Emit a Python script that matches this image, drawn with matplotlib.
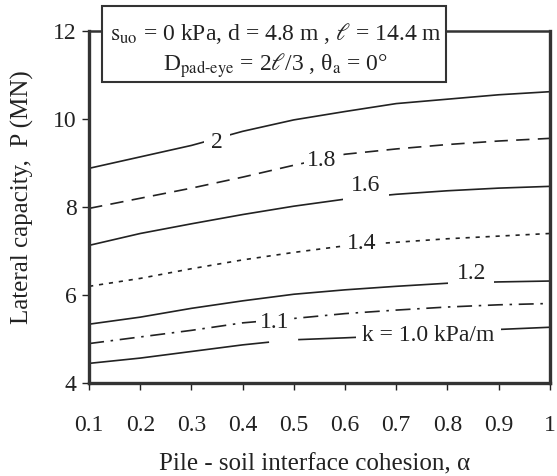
import matplotlib.pyplot as plt
from matplotlib.patches import Rectangle

plt.rcParams['font.family'] = ['Liberation Serif', 'DejaVu Serif']
plt.rcParams['mathtext.fontset'] = 'stix'

# Interface cohesion values
alpha = [0.1, 0.2, 0.3, 0.4, 0.5, 0.6, 0.7, 0.8, 0.9, 1.0]

# Lateral capacity P (MN) for each k (kPa/m)
p_k20 = [8.88, 9.14, 9.40, 9.72, 9.98, 10.17, 10.35, 10.45, 10.55, 10.62]
p_k18 = [7.97, 8.20, 8.43, 8.68, 8.95, 9.20, 9.32, 9.42, 9.50, 9.56]
p_k16 = [7.13, 7.40, 7.62, 7.83, 8.02, 8.18, 8.29, 8.37, 8.43, 8.47]
p_k14 = [6.20, 6.38, 6.60, 6.80, 6.97, 7.12, 7.20, 7.28, 7.34, 7.40]
p_k12 = [5.34, 5.50, 5.70, 5.87, 6.02, 6.12, 6.20, 6.27, 6.30, 6.32]
p_k11 = [4.90, 5.05, 5.20, 5.37, 5.47, 5.58, 5.66, 5.73, 5.78, 5.81]
# k = 1.0 curve is drawn in two pieces in the figure
alpha_k10a = [0.1, 0.2, 0.3, 0.4, 0.45]
p_k10a = [4.45, 4.57, 4.72, 4.87, 4.93]
alpha_k10b = [0.51, 0.6, 0.7, 0.8, 0.9, 1.0]
p_k10b = [4.99, 5.03, 5.08, 5.15, 5.22, 5.27]

fig = plt.figure(figsize=(5.57, 4.76), dpi=100)
ax = fig.add_axes([0.160, 0.195, 0.827, 0.740])

lw = 1.2
c = '#222222'
ax.plot(alpha, p_k20, color=c, lw=lw)
ax.plot(alpha, p_k18, color=c, lw=lw, ls=(0, (8, 5)))
ax.plot(alpha, p_k16, color=c, lw=lw)
ax.plot(alpha, p_k14, color=c, lw=lw, ls=(0, (2.5, 3.5)))
ax.plot(alpha, p_k12, color=c, lw=lw)
ax.plot(alpha, p_k11, color=c, lw=lw, ls=(0, (9, 4, 1.5, 4)))
ax.plot(alpha_k10a, p_k10a, color=c, lw=lw)
ax.plot(alpha_k10b, p_k10b, color=c, lw=lw)

# inline curve labels (white box breaks the line)
def label(x, y, s, pad=0.15):
    ax.text(x, y, s, fontsize=17, ha='center', va='center', color=c,
            bbox=dict(boxstyle='square,pad=%s' % pad, fc='white', ec='none'))

label(0.349, 9.46, '2', 0.3)
label(0.555, 9.06, '1.8')
label(0.641, 8.49, '1.6', 0.35)
label(0.633, 7.17, '1.4')
label(0.847, 6.49, '1.2', 0.35)
label(0.462, 5.38, '1.1')
label(0.763, 5.09, 'k = 1.0 kPa/m', 0.25)

ax.set_xlim(0.1, 1.0)
ax.set_ylim(4, 12)
ax.set_xticks(alpha)
ax.set_xticklabels(['0.1', '0.2', '0.3', '0.4', '0.5', '0.6', '0.7', '0.8', '0.9', '1'])
ax.set_yticks([4, 6, 8, 10, 12])
ax.tick_params(axis='both', labelsize=17, direction='out', length=5, width=1,
               colors=c, pad=4)
ax.tick_params(axis='x', pad=18)

for side in ['left', 'bottom', 'right']:
    ax.spines[side].set_linewidth(2.4)
    ax.spines[side].set_color('#333333')
ax.spines['top'].set_linewidth(1.8)
ax.spines['top'].set_color('#333333')

ax.set_xlabel('Pile - soil interface cohesion, α', fontsize=18, color=c)
ax.set_ylabel('Lateral capacity,  P (MN)', fontsize=18, color=c)
ax.xaxis.set_label_coords(0.489, -0.232)
ax.yaxis.set_label_coords(-0.144, 0.527)
ax.xaxis.label.set_va('center')
ax.yaxis.label.set_va('center')

# parameter box above the plot
box = Rectangle((0.183, 0.828), 0.618, 0.160, transform=fig.transFigure,
                fc='white', ec='#333333', lw=1.5, zorder=5)
fig.patches.append(box)
fig.text(0.496, 0.929, r'$\mathrm{s_{uo}}$ = 0 kPa, d = 4.8 m , $\ell$ = 14.4 m',
         fontsize=17, ha='center', va='center', color=c, zorder=6)
fig.text(0.494, 0.863, r'D$_{\mathrm{pad\text{-}eye}}$ = 2$\ell$/3 , θ$_{\mathrm{a}}$ = 0°',
         fontsize=17, ha='center', va='center', color=c, zorder=6)

fig.savefig('out.png', dpi=100, facecolor='white')
